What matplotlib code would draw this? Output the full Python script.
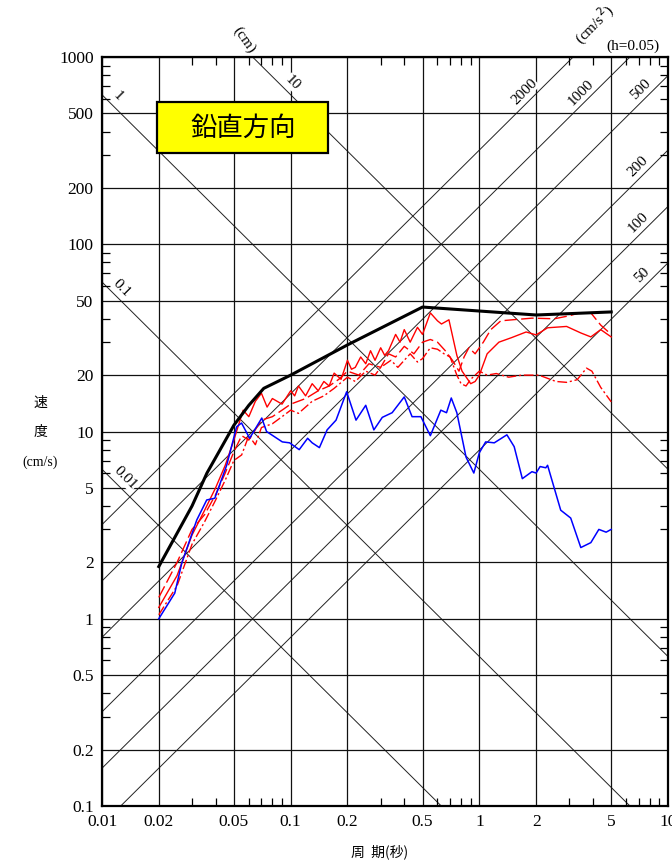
import numpy as np
import matplotlib.pyplot as plt
from matplotlib.patches import Rectangle
from matplotlib.ticker import LogLocator, NullFormatter

plt.rcParams['font.family'] = ['Liberation Serif', 'Noto Sans CJK JP', 'DejaVu Sans']

# design spectrum (black)
design_T = [0.02, 0.03, 0.036, 0.042, 0.05, 0.06, 0.072, 0.1, 0.2, 0.5, 2.0, 5.0]
design_sv = [1.9, 4.0, 6.0, 7.9, 10.8, 13.8, 17.0, 20.0, 29.0, 46.2, 41.9, 43.5]

# observed vertical record (blue)
blue_T = [0.02, 0.0243, 0.0265, 0.0318, 0.0359, 0.0396, 0.0458, 0.0517, 0.0549, 0.0606,
          0.0703, 0.0745, 0.0903, 0.0987, 0.111, 0.123, 0.130, 0.142, 0.156, 0.174,
          0.198, 0.222, 0.25, 0.276, 0.306, 0.345, 0.4, 0.44, 0.49, 0.55, 0.625,
          0.67, 0.71, 0.76, 0.85, 0.935, 1.0, 1.08, 1.2, 1.4, 1.53, 1.69, 1.9, 2.0,
          2.1, 2.25, 2.3, 2.7, 3.05, 3.45, 3.9, 4.3, 4.7, 5.0]
blue_sv = [1.0, 1.37, 1.99, 3.37, 4.31, 4.4, 6.6, 10.6, 11.1, 9.2,
           11.8, 10.0, 8.8, 8.7, 8.0, 9.2, 8.7, 8.2, 10.2, 11.5,
           16.3, 11.5, 13.8, 10.2, 11.9, 12.6, 15.3, 12.0, 12.0, 9.5, 13.0,
           12.6, 15.1, 12.6, 7.3, 6.0, 7.7, 8.8, 8.7, 9.6, 8.3, 5.6, 6.1, 6.0,
           6.5, 6.4, 6.6, 3.8, 3.45, 2.4, 2.55, 3.0, 2.9, 3.0]

# red records
redA_T = [0.02, 0.025, 0.03, 0.035, 0.04, 0.045, 0.05, 0.056, 0.06, 0.065, 0.07, 0.075,
          0.08, 0.09, 0.1, 0.105, 0.11, 0.12, 0.13, 0.14, 0.15, 0.16, 0.17, 0.185, 0.2,
          0.21, 0.22, 0.235, 0.25, 0.265, 0.28, 0.3, 0.315, 0.33, 0.36, 0.38, 0.4, 0.43,
          0.47, 0.5, 0.55, 0.6, 0.63, 0.69, 0.76, 0.81, 0.9, 0.95, 1.0, 1.1, 1.27, 1.48,
          1.77, 2.0, 2.3, 2.9, 3.45, 3.9, 4.4, 5.0]
redA_sv = [1.15, 1.7, 2.8, 3.8, 5.0, 6.6, 9.0, 13.0, 12.0, 14.5, 16.0, 13.5,
           15.0, 14.0, 16.5, 15.5, 17.5, 15.5, 18.0, 16.5, 18.5, 17.5, 20.5, 19.0, 24.0,
           21.5, 22.0, 25.0, 23.0, 27.0, 24.0, 28.0, 25.5, 27.0, 33.0, 30.0, 35.0, 30.0,
           36.0, 33.0, 43.0, 39.0, 37.5, 39.5, 25.5, 21.0, 18.0, 18.5, 20.0, 26.0, 30.0, 31.7,
           34.0, 32.8, 35.8, 36.4, 33.6, 32.0, 35.0, 32.0]

redB_T = [0.02, 0.025, 0.03, 0.035, 0.04, 0.045, 0.05, 0.055, 0.06, 0.07, 0.08, 0.09,
          0.1, 0.12, 0.14, 0.16, 0.18, 0.2, 0.23, 0.26, 0.3, 0.33, 0.36, 0.4, 0.45,
          0.5, 0.55, 0.6, 0.66, 0.72, 0.78, 0.83, 0.88, 0.95, 1.05, 1.15, 1.3, 1.5,
          1.9, 2.5, 3.0, 3.4, 3.9, 4.4, 5.0]
redB_sv = [1.3, 2.0, 3.0, 3.6, 4.6, 6.0, 7.8, 9.5, 9.0, 11.5, 12.0, 13.0,
           14.0, 15.0, 16.5, 17.5, 19.0, 21.0, 20.0, 23.0, 22.0, 26.0, 25.0, 28.5, 26.0,
           30.0, 31.0, 30.0, 27.0, 24.0, 21.0, 25.0, 28.0, 26.0, 30.0, 35.0, 39.0, 39.5,
           40.3, 40.0, 41.5, 43.0, 43.0, 37.0, 33.0]

redC_T = [0.02, 0.025, 0.03, 0.035, 0.04, 0.045, 0.05, 0.055, 0.06, 0.065, 0.07, 0.08,
          0.09, 0.1, 0.11, 0.13, 0.15, 0.17, 0.2, 0.22, 0.25, 0.28, 0.3, 0.34, 0.37,
          0.4, 0.43, 0.47, 0.5, 0.55, 0.6, 0.65, 0.7, 0.76, 0.8, 0.85, 0.9, 1.0, 1.1,
          1.23, 1.43, 1.68, 2.07, 2.55, 2.9, 3.3, 3.7, 3.95, 4.4, 5.0]
redC_sv = [1.05, 1.5, 2.5, 3.3, 4.3, 5.5, 7.0, 7.5, 9.5, 8.5, 10.5, 11.0,
           12.0, 13.0, 12.5, 14.5, 15.5, 17.0, 19.5, 18.5, 21.0, 20.0, 22.0, 24.0, 22.0,
           24.0, 26.0, 23.5, 24.5, 28.0, 27.5, 26.0, 25.0, 20.0, 18.0, 17.5, 19.0, 21.0, 20.0,
           20.4, 19.5, 20.0, 20.0, 18.5, 18.3, 18.9, 21.8, 21.0, 17.2, 14.4]

# tripartite guide lines
disp_values = [0.01, 0.1, 1, 10]            # cm
disp_labels = ['0.01', '0.1', '1', '10']
disp_label_T = [0.0126, 0.0121, 0.0115, 0.097]
acc_values = [50, 100, 200, 500, 1000, 2000]  # cm/s^2
acc_labels = ['50', '100', '200', '500', '1000', '2000']
acc_label_T = [7.4, 7.07, 7.07, 7.28, 3.5, 1.77]

xticks = [0.01, 0.02, 0.05, 0.1, 0.2, 0.5, 1, 2, 5, 10]
xticklabels = ['0.01', '0.02', '0.05', '0.1', '0.2', '0.5', '1', '2', '5', '10']
yticks = [0.1, 0.2, 0.5, 1, 2, 5, 10, 20, 50, 100, 200, 500, 1000]
yticklabels = ['0.1', '0.2', '0.5', '1', '2', '5', '10', '20', '50', '100', '200', '500', '1000']

fig = plt.figure(figsize=(6.72, 8.63), dpi=100)
ax = fig.add_axes([102/672, 57/863, 566/672, 749/863])
ax.set_xscale('log')
ax.set_yscale('log')
ax.set_xlim(0.01, 10)
ax.set_ylim(0.1, 1000)

T = np.logspace(-2, 1, 200)
for d in disp_values:
    ax.plot(T, 2*np.pi*d/T, color='#222222', lw=0.7, zorder=1)
for a in acc_values:
    ax.plot(T, a*T/(2*np.pi), color='#222222', lw=0.7, zorder=1)

for lab, d, t in zip(disp_labels, disp_values, disp_label_T):
    ax.annotate(lab, (t, 2*np.pi*d/t), xytext=(3, 7), textcoords='offset points',
                ha='center', va='center', rotation=-45, fontsize=11,
                bbox=dict(facecolor='white', edgecolor='none', pad=0.1), zorder=2)
for lab, a, t in zip(acc_labels, acc_values, acc_label_T):
    ax.annotate(lab, (t, a*t/(2*np.pi)), xytext=(-1, 8.5), textcoords='offset points',
                ha='center', va='center', rotation=45, fontsize=11,
                bbox=dict(facecolor='white', edgecolor='none', pad=0.1), zorder=2)

ax.plot(redC_T, redC_sv, color='red', lw=1.0, ls=(0, (7, 2, 1.5, 2)), zorder=3)
ax.plot(redB_T, redB_sv, color='red', lw=1.0, ls=(0, (9, 3)), zorder=3)
ax.plot(redA_T, redA_sv, color='red', lw=1.0, zorder=3)
ax.plot(blue_T, blue_sv, color='blue', lw=1.1, zorder=4)
ax.plot(design_T, design_sv, color='black', lw=2.2, zorder=5)

ax.set_xticks(xticks)
ax.set_xticklabels(xticklabels)
ax.set_yticks(yticks)
ax.set_yticklabels(yticklabels)
ax.xaxis.set_minor_locator(LogLocator(base=10, subs=[3, 4, 6, 7, 8, 9]))
ax.yaxis.set_minor_locator(LogLocator(base=10, subs=[3, 4, 6, 7, 8, 9]))
ax.xaxis.set_minor_formatter(NullFormatter())
ax.yaxis.set_minor_formatter(NullFormatter())
ax.tick_params(which='major', length=0, labelsize=12.5, pad=6)
ax.tick_params(which='minor', direction='in', length=6, width=0.9,
               top=True, right=True, bottom=True, left=True)
ax.grid(which='major', color='#111111', lw=0.9)
for s in ax.spines.values():
    s.set_linewidth(1.6)

# title box
fig.add_artist(Rectangle((157/672, 1 - 153/863), 171/672, 51/863, transform=fig.transFigure,
                         facecolor='#ffff00', edgecolor='black', lw=1.6, zorder=6))
fig.text(243/672, 1 - 128/863, '鉛直方向', fontsize=19, ha='center', va='center',
         family=['Noto Sans CJK JP'], zorder=7)

fig.text(244/672, 1 - 40/863, '(cm)', rotation=-55, ha='center', va='center', fontsize=11)
fig.text(594/672, 1 - 25/863, '(cm/s$^2$)', rotation=45, ha='center', va='center', fontsize=11)
fig.text(633/672, 1 - 46/863, '(h=0.05)', ha='center', va='center', fontsize=11)

fig.text(40/672, 1 - 403/863, '速', ha='center', va='center', fontsize=10,
         family=['Noto Sans CJK JP'])
fig.text(40/672, 1 - 432/863, '度', ha='center', va='center', fontsize=10,
         family=['Noto Sans CJK JP'])
fig.text(40/672, 1 - 462/863, '(cm/s)', ha='center', va='center', fontsize=10)
fig.text(380/672, 1 - 852/863, '周  期(秒)', ha='center', va='center', fontsize=10,
         family=['Noto Sans CJK JP'])

fig.savefig('out.png', dpi=100)
